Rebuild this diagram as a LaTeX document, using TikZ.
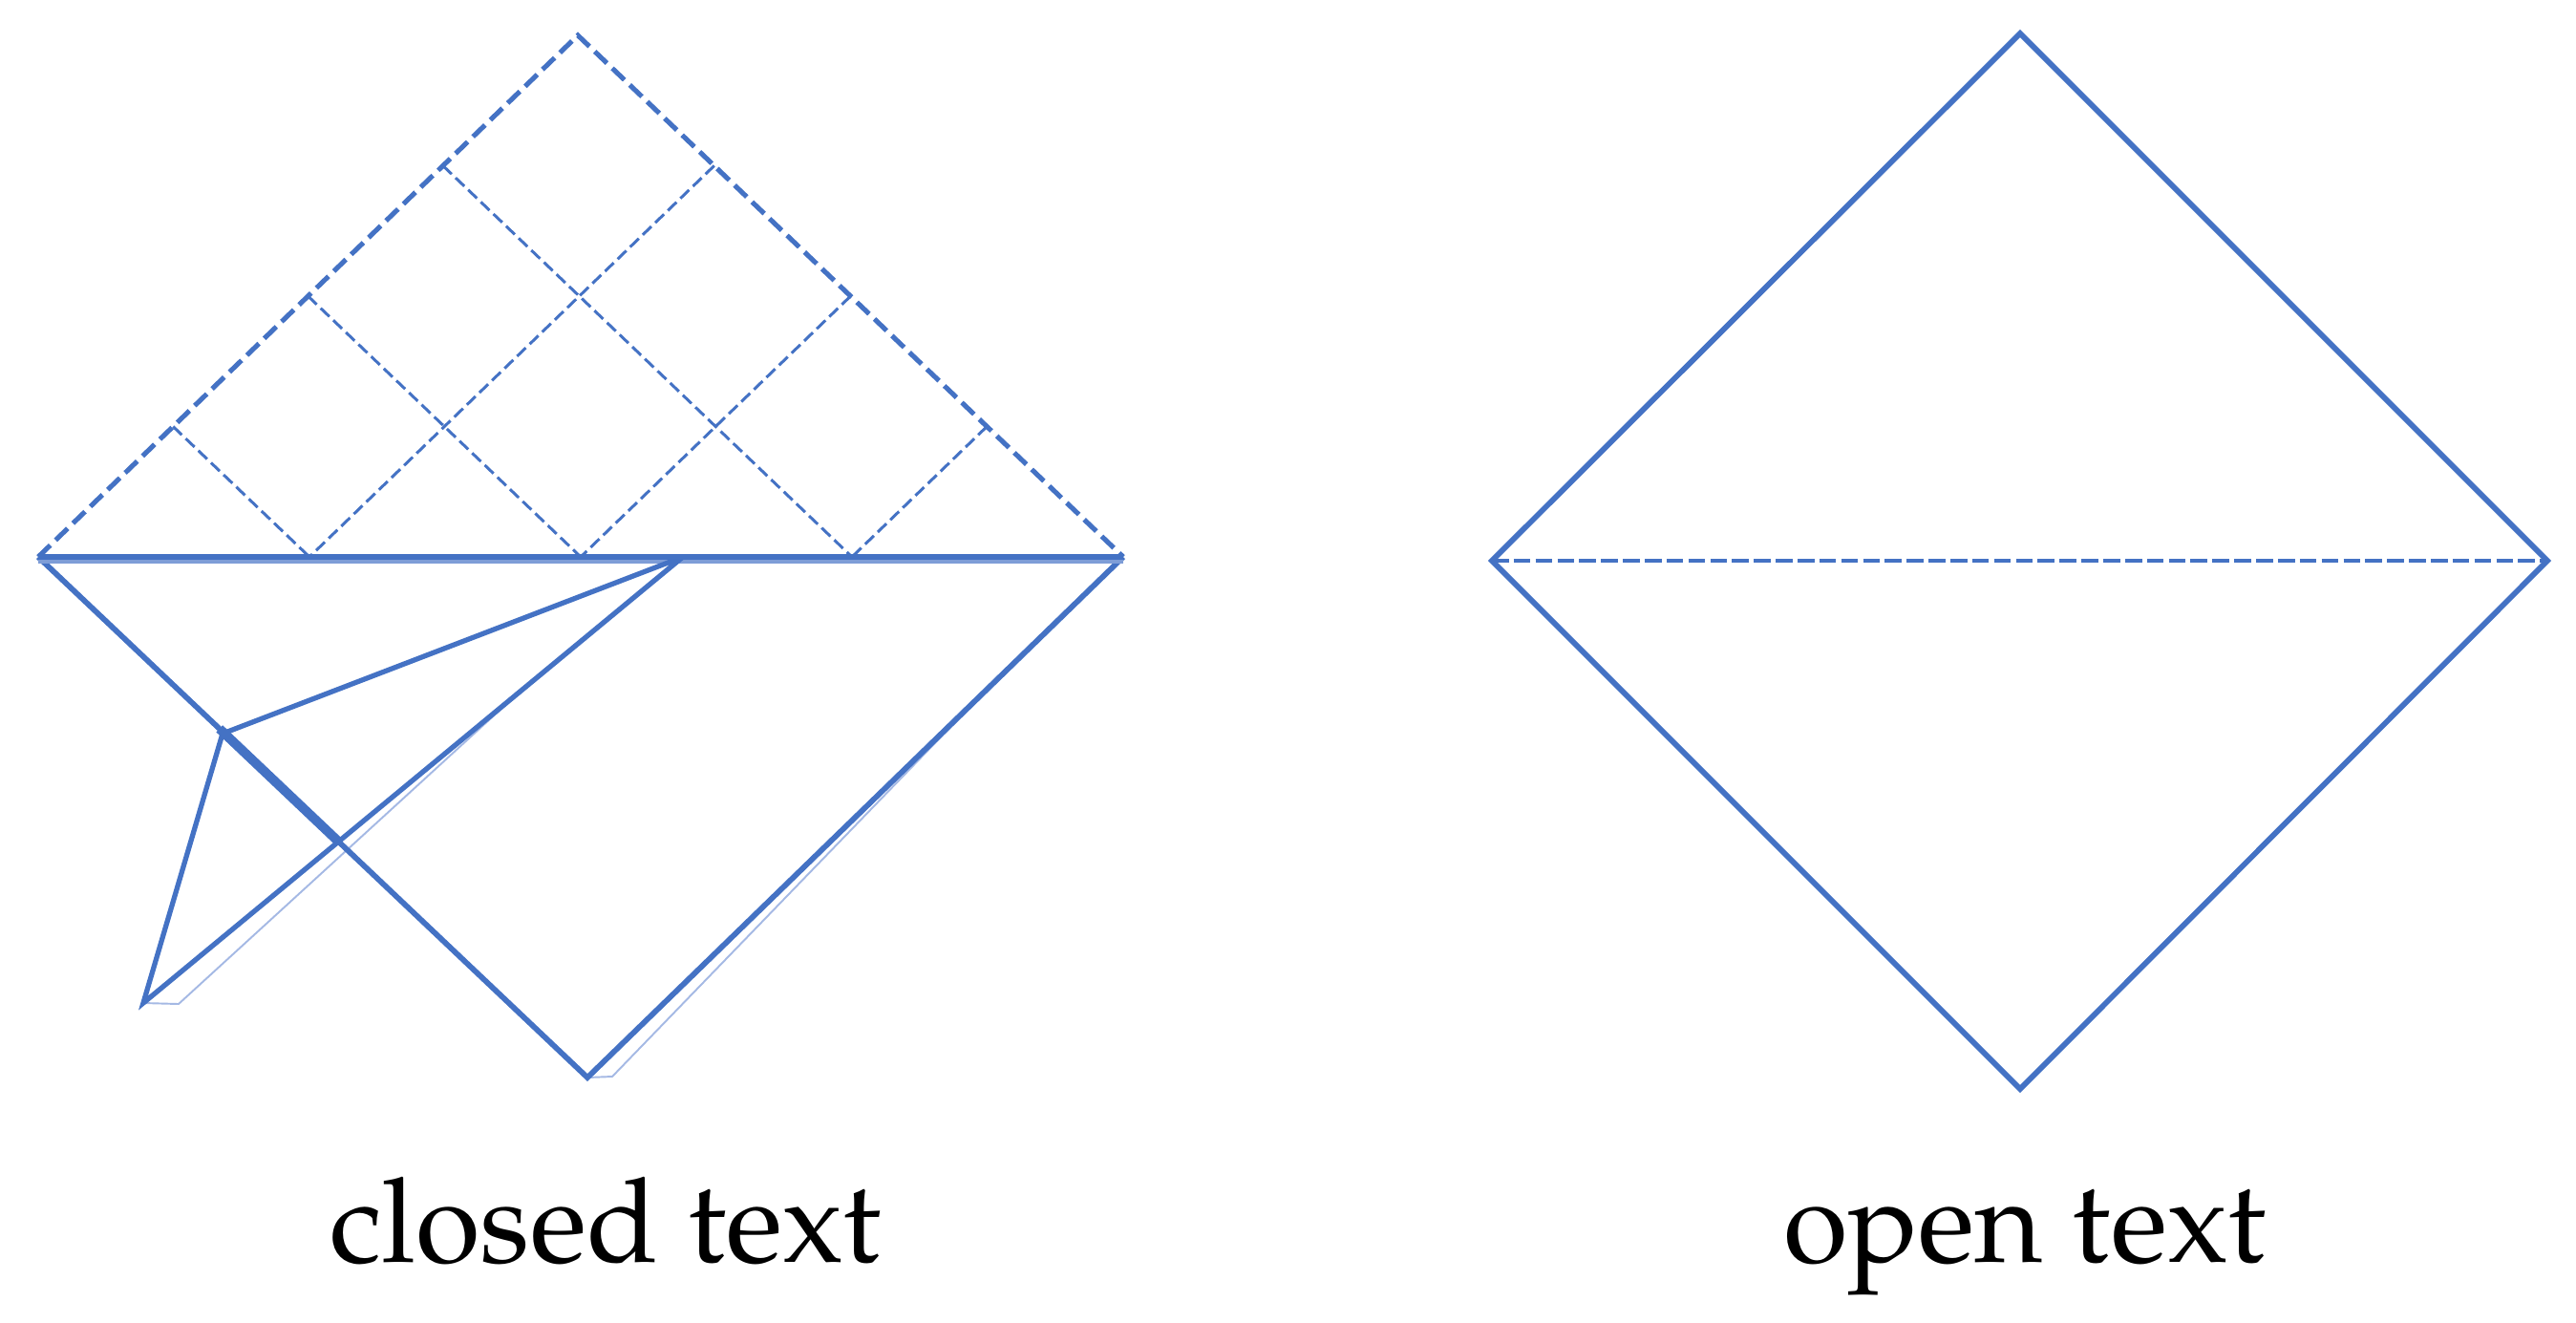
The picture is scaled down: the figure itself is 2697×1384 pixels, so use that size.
\documentclass[tikz,border=0pt]{standalone}
\usepackage[T1]{fontenc}
\usepackage{mathpazo}
\usetikzlibrary{calc}
\definecolor{obl}{RGB}{68,114,196}
\definecolor{obllight}{RGB}{165,185,228}
\begin{document}
\begin{tikzpicture}[x=0.01cm,y=-0.01cm,
  solidedge/.style={draw=obl,line width=1.65pt,line join=miter},
  foldline/.style={draw=obl,line width=1.5pt},
  thinedge/.style={draw=obllight,line width=0.55pt},
  outerdash/.style={draw=obl,line width=1.45pt,dash pattern=on 5pt off 2.2pt},
  innerdash/.style={draw=obl,line width=0.85pt,dash pattern=on 3.6pt off 1.6pt},
  middash/.style={draw=obl,line width=1.05pt,dash pattern=on 5pt off 1.5pt},
  label/.style={anchor=base,font=\fontsize{35}{42}\selectfont,text=black,inner sep=0pt}
]
\useasboundingbox (0,0) rectangle (2697,1384);
% ---------- left figure ----------
\coordinate (L1) at (40,583);
\coordinate (T1) at (605,37);
\coordinate (R1) at (1176,583);
\coordinate (B1) at (615,1128);
\coordinate (P)  at (715,583);
\coordinate (Q)  at (233,768);
\coordinate (R)  at (150,1050);
\coordinate (Rp) at (187,1051);
\coordinate (Bp) at (641,1127);
\coordinate (M1) at ($(R)!0.7!(P)$);
\coordinate (M2) at ($(B1)!0.75!(R1)$);
% dashed upper triangle
\draw[outerdash] (L1) -- (T1) -- (R1);
% dashed grid
\foreach \f in {0.25,0.5,0.75}{
  \draw[innerdash] ($(L1)!\f!(T1)$) -- ($(L1)!\f!(R1)$);
  \draw[innerdash] ($(R1)!\f!(T1)$) -- ($(R1)!\f!(L1)$);
}
% thin shadow lines
\draw[thinedge] (R) -- (Rp) -- (M1);
\draw[thinedge] (B1) -- (Bp) -- (M2);
% lower triangle
\draw[solidedge] (L1) -- (B1) -- (R1);
\coordinate (X) at (intersection of R--P and L1--B1);
\draw[draw=obl,line width=2.8pt] ($(L1)!0.33!(B1)$) -- (X);
% horizontal line
\draw[draw=obllight!60!obl,line width=1.4pt] ($(L1)+(0,5)$) -- ($(R1)+(0,5)$);
\draw[draw=obl,line width=1.8pt] (L1) -- (R1);
% fold
\draw[foldline,line join=miter] (P) -- (Q) -- (R) -- (P);
% ---------- right figure ----------
\coordinate (L2) at (1562,587);
\coordinate (T2) at (2115,35);
\coordinate (R2) at (2667,587);
\coordinate (B2) at (2115,1140);
\draw[solidedge] (L2) -- (T2) -- (R2) -- (B2) -- cycle;
\draw[middash] (L2) -- (R2);
% ---------- labels ----------
\node[label] (closed) at (634,1321) {closed text};
\node[label] (open) at (2120,1321) {open text};
\end{tikzpicture}
\end{document}
